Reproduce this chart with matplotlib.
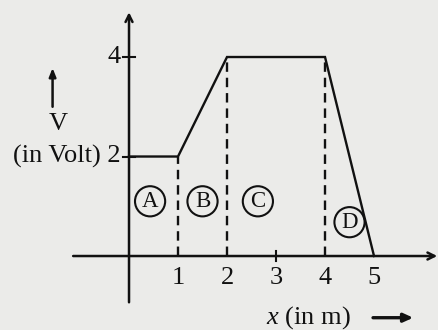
import matplotlib
matplotlib.use("Agg")
import matplotlib.pyplot as plt

# Data
x_pts = [0, 1, 2, 4, 5]
v_pts = [2, 2, 4, 4, 0]
dashed_x = [1, 2, 4]
dashed_top = [2, 4, 4]
x_ticks = [1, 2, 3, 4, 5]
y_ticks = [2, 4]
regions = ["A", "B", "C", "D"]

plt.rcParams["mathtext.fontset"] = "custom"
plt.rcParams["mathtext.rm"] = "Liberation Serif"
plt.rcParams["mathtext.it"] = "Liberation Serif:italic"

bg = "#ebebe9"
ink = "#111111"
fig = plt.figure(figsize=(4.38, 3.30), dpi=100, facecolor=bg)
ax = fig.add_axes([0, 0, 1, 1], facecolor=bg)
ax.set_xlim(-2.633, 6.306)
ax.set_ylim(-1.487, 5.146)
ax.axis("off")

fs = 19
font = dict(family="Liberation Serif", color=ink)

# Axes with arrows
ax.annotate("", xy=(6.29, 0), xytext=(-1.14, 0), annotation_clip=False,
            arrowprops=dict(arrowstyle="->,head_length=0.5,head_width=0.25", lw=1.8, color=ink,
                            shrinkA=0, shrinkB=0))
ax.annotate("", xy=(0, 4.9), xytext=(0, -0.93), annotation_clip=False,
            arrowprops=dict(arrowstyle="->,head_length=0.5,head_width=0.25", lw=1.8, color=ink,
                            shrinkA=0, shrinkB=0))

# Curve
ax.plot(x_pts, v_pts, color=ink, lw=1.7, solid_joinstyle="miter")

# Dashed lines
for xd, top in zip(dashed_x, dashed_top):
    ax.plot([xd, xd], [0, top], color=ink, lw=1.7, linestyle=(0, (4, 2.5)))

# Ticks
for yt in y_ticks:
    ax.plot([-0.12, 0.12], [yt, yt], color=ink, lw=1.5)
ax.plot([3, 3], [-0.1, 0.1], color=ink, lw=1.5)

# Tick labels
for xt in x_ticks:
    ax.text(xt, -0.45, str(xt), ha="center", va="center", fontsize=fs, **font)
ax.text(-0.17, 4, "4", ha="right", va="center", fontsize=fs, **font)
ax.text(-0.17, 2, "(in Volt) 2", ha="right", va="center", fontsize=fs, **font)
ax.text(-1.45, 2.65, "V", ha="center", va="center", fontsize=fs, **font)
ax.annotate("", xy=(-1.56, 3.78), xytext=(-1.56, 3.0), annotation_clip=False,
            arrowprops=dict(arrowstyle="-|>,head_length=0.5,head_width=0.2", lw=1.8, color=ink,
                            shrinkA=0, shrinkB=0))

# x label
ax.text(3.66, -1.24, r"$x$ (in m)", ha="center", va="center", fontsize=fs, **font)
ax.annotate("", xy=(5.8, -1.24), xytext=(4.98, -1.24), annotation_clip=False,
            arrowprops=dict(arrowstyle="-|>,head_length=0.55,head_width=0.25", lw=2.4, color=ink,
                            shrinkA=0, shrinkB=0))

# Region labels
reg_pos = [(0.43, 1.1), (1.5, 1.1), (2.63, 1.1), (4.5, 0.68)]
for lab, (px, py) in zip(regions, reg_pos):
    ax.text(px, py, lab, ha="center", va="center", fontsize=16.5, **font,
            bbox=dict(boxstyle="circle,pad=0.2", fc="none", ec=ink, lw=1.5))

fig.savefig("out.png", dpi=100, facecolor=bg)
